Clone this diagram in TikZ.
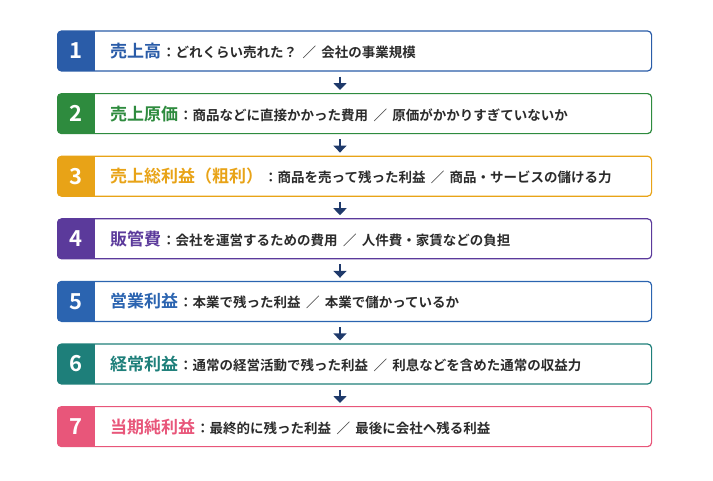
\documentclass[tikz,border=0pt]{standalone}
\usepackage{fontspec}
\newfontfamily\cjk{Noto Sans CJK JP Bold}
\newfontfamily\cjkb{Noto Sans CJK JP Bold}
\usetikzlibrary{arrows.meta}
\definecolor{c1}{HTML}{2A5CA8}
\definecolor{c2}{HTML}{2E8B3E}
\definecolor{c3}{HTML}{E8A317}
\definecolor{c4}{HTML}{5B3A9B}
\definecolor{c5}{HTML}{2B64B0}
\definecolor{c6}{HTML}{1E7F7A}
\definecolor{c7}{HTML}{E8567A}
\definecolor{arr}{HTML}{1F3A6B}
\definecolor{txt}{HTML}{2B2B2B}
\tikzset{
 box/.style={draw=#1,line width=1.2pt,rounded corners=4pt,minimum width=594pt,minimum height=40pt,anchor=west,inner sep=0pt},
 num/.style={fill=#1,text=white,minimum width=38pt,minimum height=40pt,anchor=west,inner sep=0pt,font=\cjkb\fontsize{22}{22}\selectfont},
 lab/.style={anchor=west,inner sep=0pt,text=txt,font=\cjk\fontsize{13.5}{13.5}\selectfont},
 flow/.style={-{Triangle[length=7pt,width=13pt]},line width=2.6pt,draw=arr,shorten <=5pt,shorten >=3pt}
}
\begin{document}
\begin{tikzpicture}[x=1pt,y=-1pt]
\useasboundingbox (0,0) rectangle (713,480);
\foreach \i/\c/\n/\t/\d in {
 1/c1/1/売上高/：どれくらい売れた？ \,／\, 会社の事業規模,
 2/c2/2/売上原価/：商品などに直接かかった費用 \,／\, 原価がかかりすぎていないか,
 3/c3/3/売上総利益（粗利）/：商品を売って残った利益 \,／\, 商品・サービスの儲ける力,
 4/c4/4/販管費/：会社を運営するための費用 \,／\, 人件費・家賃などの負担,
 5/c5/5/営業利益/：本業で残った利益 \,／\, 本業で儲かっているか,
 6/c6/6/経常利益/：通常の経営活動で残った利益 \,／\, 利息などを含めた通常の収益力,
 7/c7/7/当期純利益/：最終的に残った利益 \,／\, 最後に会社へ残る利益}{
 \pgfmathsetmacro\yy{51+62.6*(\i-1)}
 \begin{scope}
  \clip[rounded corners=4pt] (57,\yy-20) rectangle (651,\yy+20);
  \node[num=\c] (n\i) at (57,\yy) {\n};
 \end{scope}
 \node[box=\c] (b\i) at (57,\yy) {};
 \node[lab] (t\i) at (110,\yy) {{\fontsize{17}{17}\selectfont\color{\c}\t}\hspace{1pt}\d};
}
\foreach \i [evaluate=\i as \j using int(\i+1)] in {1,...,6}
 \draw[flow] ([xshift=283pt]b\i.south west) -- ([xshift=283pt]b\j.north west);
\end{tikzpicture}
\end{document}
